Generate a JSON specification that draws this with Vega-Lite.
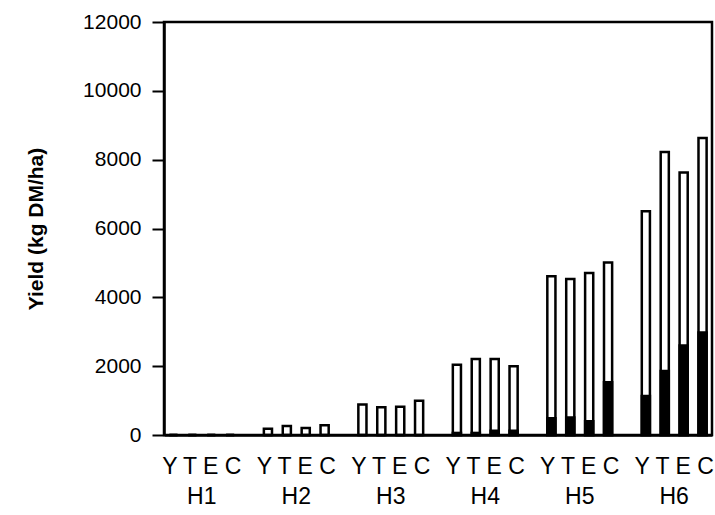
{
  "$schema": "https://vega.github.io/schema/vega-lite/v6.json",
  "width": 548,
  "height": 413,
  "autosize": "none",
  "padding": {"left": 164, "top": 22, "right": 3, "bottom": 80},
  "background": "white",
  "config": {
    "view": {"stroke": "black", "strokeWidth": 2.5},
    "font": "Liberation Sans"
  },
  "data": {
    "values": [
      {"grp": "H1", "trt": "Y", "total": 0, "dark": 0},
      {"grp": "H1", "trt": "T", "total": 0, "dark": 0},
      {"grp": "H1", "trt": "E", "total": 0, "dark": 0},
      {"grp": "H1", "trt": "C", "total": 0, "dark": 0},
      {"grp": "H2", "trt": "Y", "total": 180, "dark": 0},
      {"grp": "H2", "trt": "T", "total": 260, "dark": 0},
      {"grp": "H2", "trt": "E", "total": 200, "dark": 0},
      {"grp": "H2", "trt": "C", "total": 280, "dark": 0},
      {"grp": "H3", "trt": "Y", "total": 885, "dark": 0},
      {"grp": "H3", "trt": "T", "total": 805, "dark": 0},
      {"grp": "H3", "trt": "E", "total": 820, "dark": 0},
      {"grp": "H3", "trt": "C", "total": 995, "dark": 0},
      {"grp": "H4", "trt": "Y", "total": 2040, "dark": 60},
      {"grp": "H4", "trt": "T", "total": 2210, "dark": 60},
      {"grp": "H4", "trt": "E", "total": 2210, "dark": 120},
      {"grp": "H4", "trt": "C", "total": 1995, "dark": 120},
      {"grp": "H5", "trt": "Y", "total": 4610, "dark": 490},
      {"grp": "H5", "trt": "T", "total": 4530, "dark": 510},
      {"grp": "H5", "trt": "E", "total": 4710, "dark": 400},
      {"grp": "H5", "trt": "C", "total": 5010, "dark": 1530},
      {"grp": "H6", "trt": "Y", "total": 6500, "dark": 1130},
      {"grp": "H6", "trt": "T", "total": 8220, "dark": 1860},
      {"grp": "H6", "trt": "E", "total": 7630, "dark": 2600},
      {"grp": "H6", "trt": "C", "total": 8630, "dark": 2980}
    ]
  },
  "encoding": {
    "x": {
      "field": "grp",
      "type": "nominal",
      "scale": {"domain": ["H1","H2","H3","H4","H5","H6"], "paddingInner": 0.2, "paddingOuter": 0},
      "axis": {
        "title": null,
        "labelAngle": 0,
        "labelExpr": "['Y T E C', datum.value]",
        "labelFontSize": 23,
        "labelLineHeight": 30,
        "labelColor": "black",
        "labelPadding": 20,
        "ticks": false,
        "domainColor": "black",
        "domainWidth": 2.5
      }
    },
    "xOffset": {
      "field": "trt",
      "type": "nominal",
      "scale": {"domain": ["Y","T","E","C"], "paddingInner": 0.57, "paddingOuter": 0.285}
    }
  },
  "layer": [
    {
      "mark": {"type": "bar", "fill": "white", "stroke": "black", "strokeWidth": 2.5},
      "encoding": {
        "y": {
          "field": "total",
          "type": "quantitative",
          "stack": null,
          "scale": {"domain": [0, 12000]},
          "axis": {
            "title": "Yield  (kg  DM/ha)",
            "values": [0,2000,4000,6000,8000,10000,12000],
            "format": "d",
            "grid": false,
            "tickSize": 12,
            "tickWidth": 2,
            "tickColor": "black",
            "domainColor": "black",
            "domainWidth": 2.5,
            "labelColor": "black",
            "labelFontSize": 21,
            "labelPadding": 11,
            "titleColor": "black",
            "titleFontSize": 21,
            "titleFontWeight": "bold",
            "titlePadding": 36
          }
        }
      }
    },
    {
      "mark": {"type": "bar", "fill": "black", "stroke": "black", "strokeWidth": 2.5},
      "encoding": {
        "y": {"field": "dark", "type": "quantitative", "stack": null}
      }
    }
  ]
}
